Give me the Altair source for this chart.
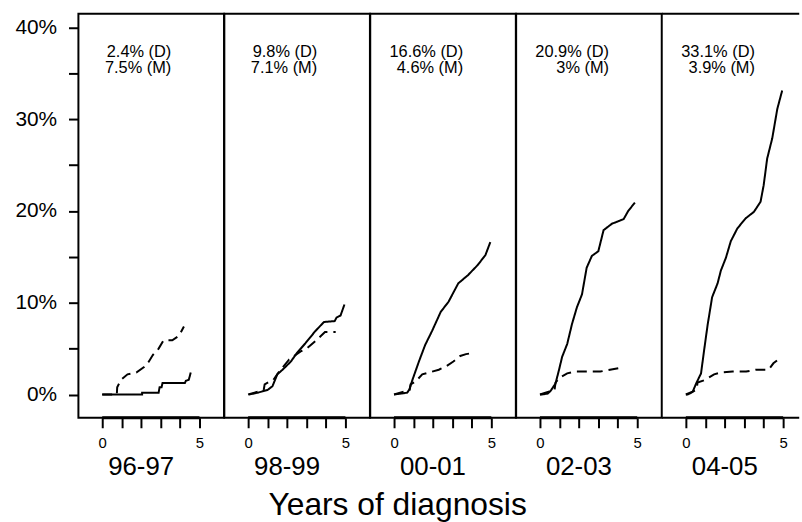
import altair as alt
import pandas as pd

periods = ["96-97", "98-99", "00-01", "02-03", "04-05"]
d_labels = ["2.4% (D)", "9.8% (D)", "16.6% (D)", "20.9% (D)", "33.1% (D)"]
m_labels = ["7.5% (M)", "7.1% (M)", "4.6% (M)", "3% (M)", "3.9% (M)"]

# (years since diagnosis, cumulative %)
D_9697 = [(0, 0), (2.05, 0), (2.05, 0.2), (2.9, 0.2), (2.95, 0.8), (3.05, 0.8), (3.1, 1.25),
          (4.25, 1.25), (4.3, 1.5), (4.45, 1.6), (4.5, 2.0), (4.55, 2.4)]
M_9697 = [(0, 0), (0.75, 0), (0.77, 0.8), (0.97, 1.6), (1.3, 2.2), (1.75, 2.4), (2.15, 3.0),
          (2.4, 3.6), (2.6, 4.3), (2.9, 5.0), (3.15, 5.9), (3.6, 5.9), (3.95, 6.4), (4.2, 7.4)]
D_9899 = [(0.05, 0), (0.5, 0.2), (1.0, 0.5), (1.25, 0.9), (1.5, 2.2), (1.77, 2.7), (2.2, 3.6),
          (2.5, 4.5), (2.95, 5.6), (3.45, 6.9), (3.9, 7.9), (4.45, 8.0), (4.55, 8.4), (4.75, 8.6),
          (4.95, 9.8)]
M_9899 = [(0, 0), (0.8, 0.5), (0.85, 1.1), (1.1, 1.4), (1.3, 1.6), (1.6, 2.5), (2.1, 3.8),
          (2.7, 4.7), (3.0, 5.0), (3.45, 5.8), (3.6, 6.1), (3.95, 6.8), (4.5, 6.8)]
D_0001 = [(0, 0), (0.68, 0.2), (0.8, 0.6), (0.93, 1.5), (1.28, 3.6), (1.6, 5.4), (1.95, 6.9),
          (2.4, 9.0), (2.8, 10.1), (3.3, 12.1), (3.8, 13.0), (4.3, 14.1), (4.7, 15.2),
          (4.95, 16.6)]
M_0001 = [(0, 0), (0.8, 0.5), (0.85, 1.1), (1.1, 1.4), (1.45, 2.2), (1.8, 2.4), (2.3, 2.7),
          (2.7, 3.1), (3.05, 3.6), (3.4, 4.2), (3.7, 4.4), (4.0, 4.5)]
D_0203 = [(0, 0), (0.1, 0), (0.4, 0.1), (0.55, 0.4), (0.8, 1.2), (0.97, 2.6), (1.14, 4.1),
          (1.4, 5.5), (1.65, 7.7), (1.9, 9.5), (2.16, 10.9), (2.4, 13.8), (2.67, 15.1),
          (3.0, 15.6), (3.27, 17.9), (3.7, 18.6), (4.3, 19.1), (4.54, 20.0), (4.88, 20.9)]
M_0203 = [(0, 0), (0.75, 0.5), (0.8, 1.3), (1.0, 1.8), (1.4, 2.3), (1.85, 2.5), (3.1, 2.5),
          (3.6, 2.7), (4.1, 2.9)]
D_0405 = [(0, 0), (0.1, 0), (0.35, 0.3), (0.53, 1.2), (0.78, 2.3), (0.95, 5.0), (1.12, 7.6),
          (1.35, 10.6), (1.63, 12.1), (1.8, 13.5), (2.06, 14.9), (2.31, 16.7), (2.65, 18.1),
          (3.08, 19.2), (3.5, 19.9), (3.84, 21.0), (4.0, 22.8), (4.18, 25.7), (4.44, 27.9),
          (4.7, 31.1), (4.95, 33.1)]
M_0405 = [(0, 0), (0.55, 0.5), (0.6, 1.3), (1.0, 1.6), (1.45, 2.2), (1.8, 2.4), (2.4, 2.5),
          (3.1, 2.5), (3.6, 2.7), (4.25, 2.7), (4.5, 3.4), (4.8, 3.9)]

curves = {
    "96-97": (D_9697, M_9697),
    "98-99": (D_9899, M_9899),
    "00-01": (D_0001, M_0001),
    "02-03": (D_0203, M_0203),
    "04-05": (D_0405, M_0405),
}

rows = []
for p, (dser, mser) in curves.items():
    for name, ser in (("D", dser), ("M", mser)):
        for i, (t, v) in enumerate(ser):
            rows.append({"kind": "curve", "period": p, "series": name, "idx": i, "t": t, "pct": v})
for p, dl, ml in zip(periods, d_labels, m_labels):
    rows.append({"kind": "label", "period": p, "series": "", "idx": 0,
                 "ann": dl + "\n" + ml})
df = pd.DataFrame(rows)

FONT = "Liberation Sans"
H = 407
PX_PER_YEAR = 19.6
W = 146.7                 # full panel width
W_LAST = 138.2            # last panel is cut by the picture's right edge
X_LO = -1.224

yscale = alt.Scale(domain=[-2.54, 41.46], nice=False, zero=False)

xaxis = alt.Axis(values=[0, 1, 2, 3, 4, 5], tickCount=6,
                 labelExpr="(datum.value == 0 || datum.value == 5) ? datum.label : ''",
                 domain=False, grid=False, tickSize=10, tickWidth=2,
                 tickColor="black", labelFontSize=15, labelPadding=8,
                 labelColor="black", labelFont=FONT, labelOverlap=False,
                 labelFlush=False, labelBound=False)
yaxis = alt.Axis(values=list(range(0, 45, 5)), tickCount=9,
                 labelExpr="datum.value % 10 == 0 ? datum.value + '%' : ''",
                 domain=False, grid=False, tickSize=10, tickWidth=2,
                 tickColor="black", labelFontSize=21, labelPadding=12,
                 labelColor="black", labelFont=FONT, labelOverlap=False,
                 labelFlush=False)


def panel(i, p):
    last = i == len(periods) - 1
    w = W_LAST if last else W
    xscale = alt.Scale(domain=[X_LO, X_LO + w / PX_PER_YEAR], nice=False, zero=False)
    base = alt.Chart().transform_filter(alt.datum.period == p)

    lines = base.transform_filter("datum.kind == 'curve'").mark_line(
        color="black", strokeWidth=2, strokeCap="butt"
    ).encode(
        x=alt.X("t:Q", scale=xscale, title=None, axis=xaxis),
        y=alt.Y("pct:Q", scale=yscale, title=None, axis=yaxis if i == 0 else None),
        strokeDash=alt.StrokeDash("series:N",
                                  scale=alt.Scale(domain=["D", "M"], range=[[1, 0], [10, 6]]),
                                  legend=None),
        detail="series:N",
        order="idx:Q",
    )
    lab = base.transform_filter("datum.kind == 'label'")
    ann = lab.mark_text(
        align="right", baseline="alphabetic", lineBreak="\n", lineHeight=17,
        fontSize=16.5, font=FONT, color="black"
    ).encode(x=alt.datum(3.55), y=alt.value(43), text="ann:N")
    plab = lab.mark_text(
        align="center", baseline="middle", fontSize=26, font=FONT, color="black"
    ).encode(x=alt.datum(2.0), y=alt.value(H + 50), text="period:N")
    axisline = lab.mark_rule(color="black", strokeWidth=3).encode(
        x=alt.datum(0), x2=alt.datum(5), y=alt.value(H))
    layers = [lines, ann, plab, axisline]
    props = dict(width=w, height=H)
    if last:
        top = lab.mark_rule(color="black", strokeWidth=2).encode(
            x=alt.value(0), x2=alt.value(w), y=alt.value(0))
        bottom = lab.mark_rule(color="black", strokeWidth=2).encode(
            x=alt.value(0), x2=alt.value(w), y=alt.value(H))
        layers += [top, bottom]
        props["view"] = alt.ViewBackground(stroke="transparent")
    return alt.layer(*layers).properties(**props)


chart = alt.hconcat(*[panel(i, p) for i, p in enumerate(periods)],
                    data=df, spacing=0, bounds="flush").properties(
    title=alt.TitleParams("Years of diagnosis", orient="bottom", anchor="middle", fontSize=32,
                          fontWeight="normal", font=FONT, color="black", dx=-10, offset=9),
    padding={"left": 13, "top": 10, "right": 0, "bottom": 0},
).configure_view(stroke="black", strokeWidth=2)

chart.save("out.html", embed_options={"renderer": "svg", "actions": False})
